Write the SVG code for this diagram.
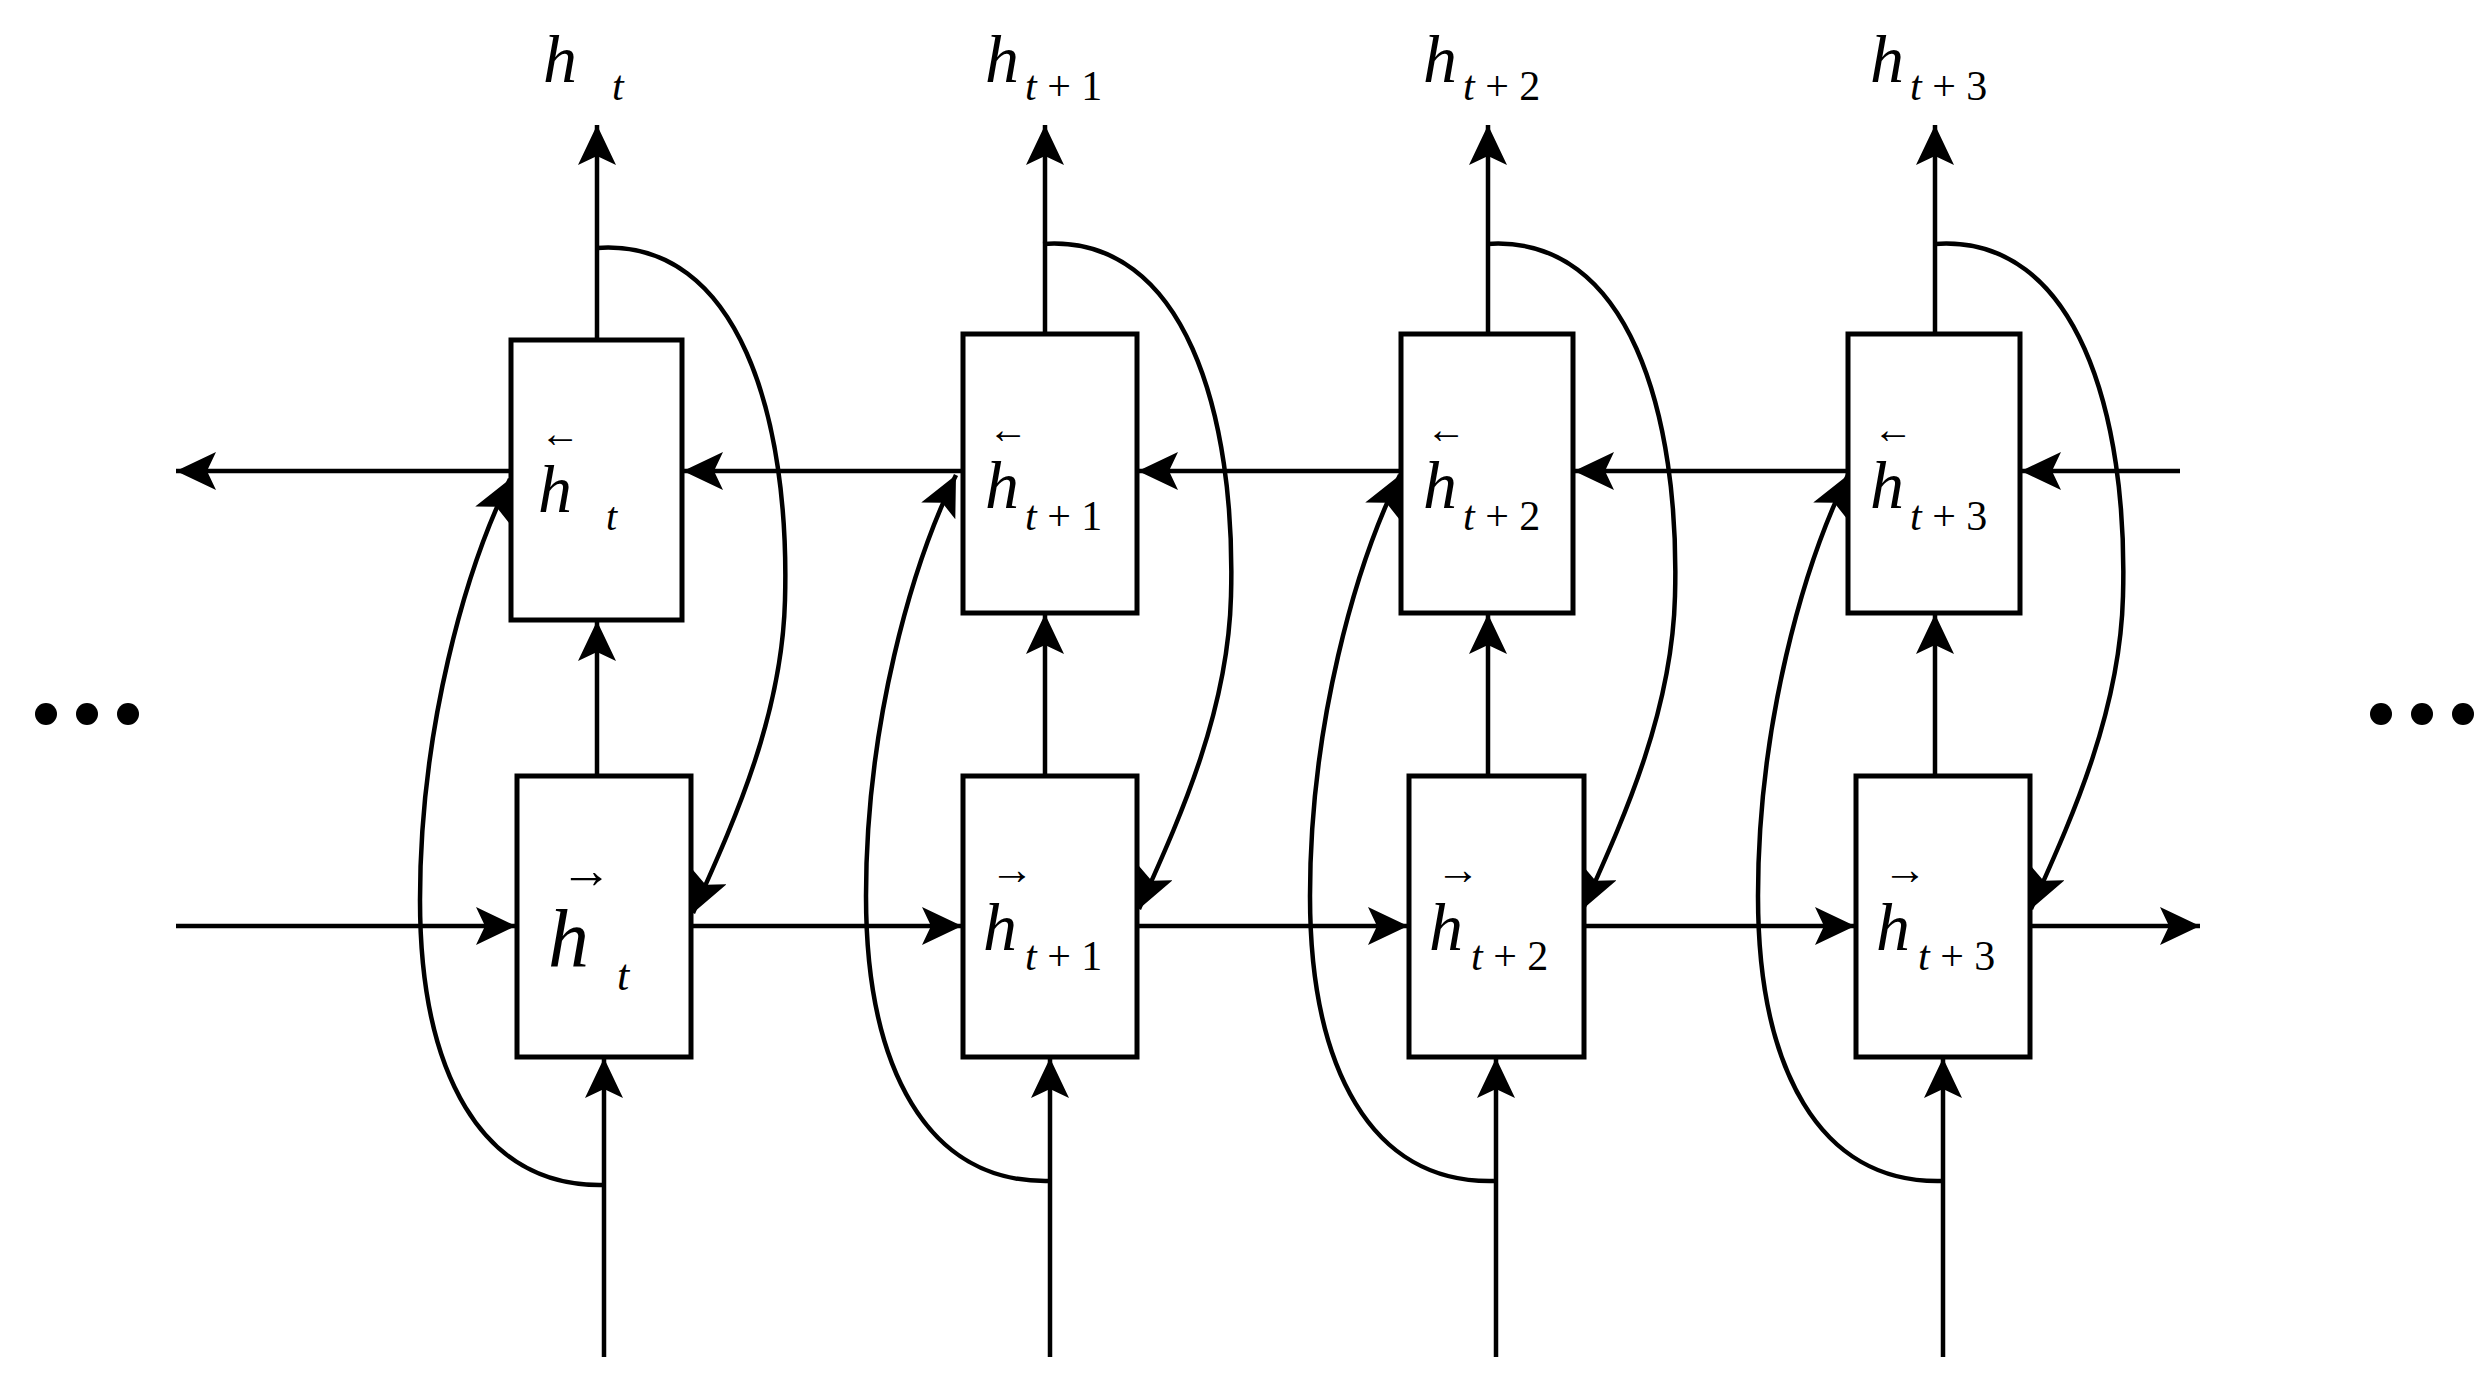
<svg xmlns="http://www.w3.org/2000/svg" width="2491" height="1373" viewBox="0 0 2491 1373">
<style>
.b{fill:#fff;stroke:#000;stroke-width:5}
.l{fill:none;stroke:#000;stroke-width:4.5}
.a{marker-end:url(#ah)}
.t{font-family:"Liberation Serif","Times New Roman","DejaVu Serif",serif;font-style:italic;fill:#000}
.n{font-family:"Liberation Serif","Times New Roman","DejaVu Serif",serif;font-style:normal;fill:#000}
</style>
<defs>
<marker id="ah" markerUnits="userSpaceOnUse" markerWidth="42" markerHeight="40" refX="40" refY="19" orient="auto">
<path d="M0,0 L40,19 L0,38 L9,19 z" fill="#000"/>
</marker>
</defs>
<g id="connectors">
<path class="l a" d="M597,340 V125"/>
<path class="l a" d="M597,776 V621"/>
<path class="l a" d="M604,1357 V1058"/>
<path class="l a" d="M1045,334 V125"/>
<path class="l a" d="M1045,776 V614"/>
<path class="l a" d="M1050,1357 V1058"/>
<path class="l a" d="M1488,334 V125"/>
<path class="l a" d="M1488,776 V614"/>
<path class="l a" d="M1496,1357 V1058"/>
<path class="l a" d="M1935,334 V125"/>
<path class="l a" d="M1935,776 V614"/>
<path class="l a" d="M1943,1357 V1058"/>
<path class="l a" d="M2180,471 H2021"/>
<path class="l a" d="M1848,471 H1574"/>
<path class="l a" d="M1401,471 H1138"/>
<path class="l a" d="M963,471 H683"/>
<path class="l a" d="M511,471 H176"/>
<path class="l a" d="M176,926 H516"/>
<path class="l a" d="M691,926 H962"/>
<path class="l a" d="M1137,926 H1408"/>
<path class="l a" d="M1584,926 H1855"/>
<path class="l a" d="M2030,926 H2200"/>
<g id="c1">
<path class="l a" d="M597,248 C740,238 790,420 785,600 C782,720 730,830 693,913"/>
<path class="l a" d="M604,1185 C480,1188 420,1070 420,900 C420,730 465,570 510,479"/>
</g>
<use href="#c1" transform="translate(446,-4)"/>
<use href="#c1" transform="translate(890,-4)"/>
<use href="#c1" transform="translate(1338,-4)"/>
</g>
<g id="node-u1"><rect class="b" x="511" y="340" width="171" height="280"/>
<text class="n" x="540" y="447" font-size="40">←</text>
<text class="t" x="538" y="512" font-size="68">h</text><text class="t" x="606" y="530" font-size="40">t</text></g>
<g id="node-u2"><rect class="b" x="963" y="334" width="174" height="279"/>
<text class="n" x="988" y="443" font-size="40">←</text>
<text class="t" x="985" y="508" font-size="68">h</text><text class="t" x="1025" y="530" font-size="42">t<tspan class="n"> + 1</tspan></text></g>
<g id="node-u3"><rect class="b" x="1401" y="334" width="172" height="279"/>
<text class="n" x="1426" y="443" font-size="40">←</text>
<text class="t" x="1423" y="508" font-size="68">h</text><text class="t" x="1463" y="530" font-size="42">t<tspan class="n"> + 2</tspan></text></g>
<g id="node-u4"><rect class="b" x="1848" y="334" width="172" height="279"/>
<text class="n" x="1873" y="443" font-size="40">←</text>
<text class="t" x="1870" y="508" font-size="68">h</text><text class="t" x="1910" y="530" font-size="42">t<tspan class="n"> + 3</tspan></text></g>
<g id="node-l1"><rect class="b" x="517" y="776" width="174" height="281"/>
<text class="n" x="560" y="888" font-size="52">→</text>
<text class="t" x="548" y="966" font-size="82">h</text><text class="t" x="617" y="990" font-size="44">t</text></g>
<g id="node-l2"><rect class="b" x="963" y="776" width="174" height="281"/>
<text class="n" x="990" y="884" font-size="44">→</text>
<text class="t" x="983" y="950" font-size="68">h</text><text class="t" x="1025" y="970" font-size="42">t<tspan class="n"> + 1</tspan></text></g>
<g id="node-l3"><rect class="b" x="1409" y="776" width="175" height="281"/>
<text class="n" x="1436" y="884" font-size="44">→</text>
<text class="t" x="1429" y="950" font-size="68">h</text><text class="t" x="1471" y="970" font-size="42">t<tspan class="n"> + 2</tspan></text></g>
<g id="node-l4"><rect class="b" x="1856" y="776" width="174" height="281"/>
<text class="n" x="1883" y="884" font-size="44">→</text>
<text class="t" x="1876" y="950" font-size="68">h</text><text class="t" x="1918" y="970" font-size="42">t<tspan class="n"> + 3</tspan></text></g>
<g id="outputs">
<text class="t" x="543" y="82" font-size="68">h</text><text class="t" x="612" y="100" font-size="42">t</text>
<text class="t" x="985" y="82" font-size="68">h</text><text class="t" x="1025" y="100" font-size="42">t<tspan class="n"> + 1</tspan></text>
<text class="t" x="1423" y="82" font-size="68">h</text><text class="t" x="1463" y="100" font-size="42">t<tspan class="n"> + 2</tspan></text>
<text class="t" x="1870" y="82" font-size="68">h</text><text class="t" x="1910" y="100" font-size="42">t<tspan class="n"> + 3</tspan></text>
</g>
<g id="dots" fill="#000">
<circle cx="46" cy="714" r="11"/><circle cx="87" cy="714" r="11"/><circle cx="128" cy="714" r="11"/>
<circle cx="2381" cy="714" r="11"/><circle cx="2422" cy="714" r="11"/><circle cx="2463" cy="714" r="11"/>
</g>
</svg>
